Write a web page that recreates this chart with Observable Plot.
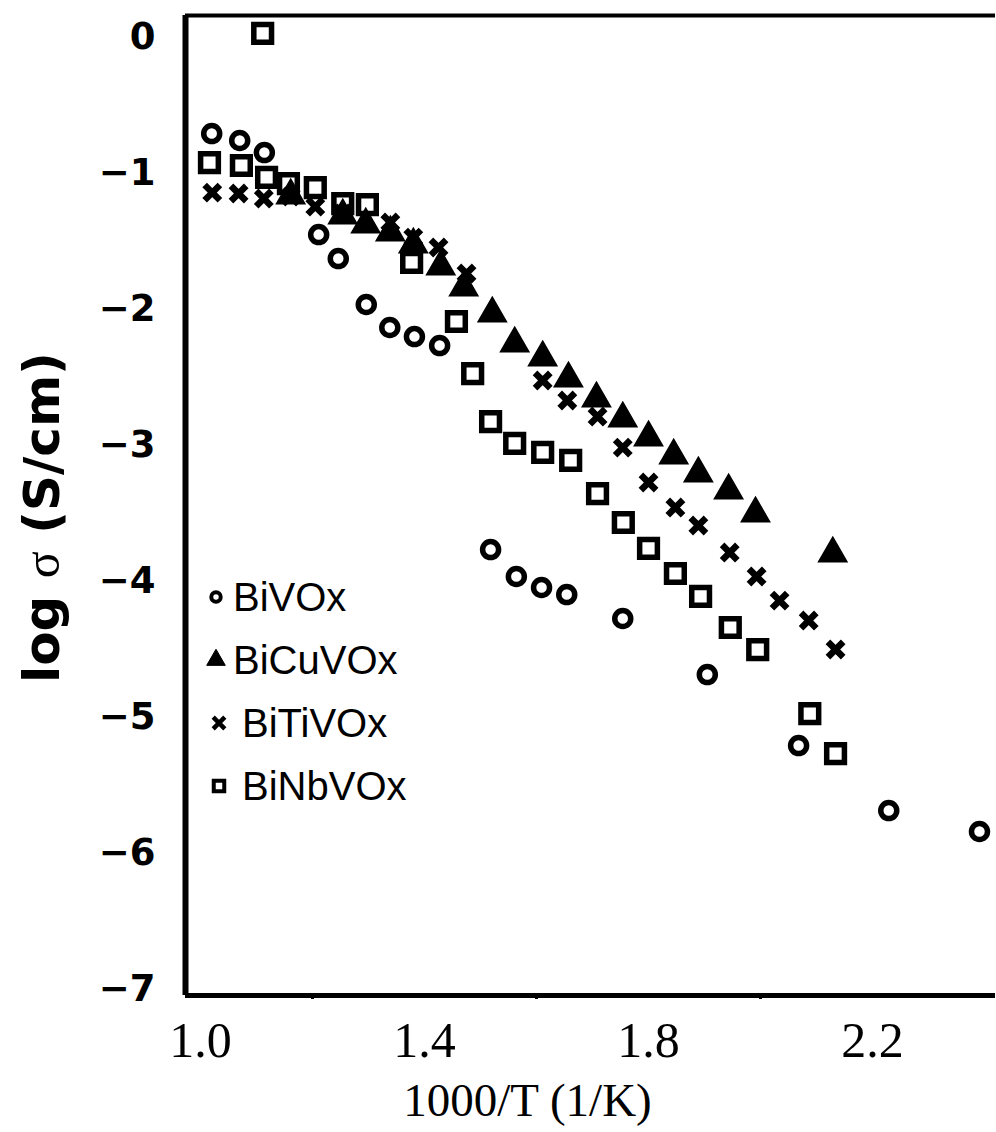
<!DOCTYPE html>
<html>
<head>
<meta charset="utf-8">
<script src="https://cdn.jsdelivr.net/npm/d3@7"></script>
<script src="https://cdn.jsdelivr.net/npm/@observablehq/plot@0.6"></script>
<style>
  html, body { margin: 0; padding: 0; background: #fff; }
  #wrap { position: relative; width: 996px; height: 1132px; overflow: hidden; }
  .lg-row { position: absolute; display: flex; align-items: center; font-family: "Liberation Sans", Arial, sans-serif; font-size: 40px; color: #000; line-height: 1; }
  .lg-row svg { display: block; }
</style>
</head>
<body>
<div id="wrap"></div>
<script>
// ---- data ----
const seriesNames = ["BiVOx", "BiCuVOx", "BiTiVOx", "BiNbVOx"];

const biVOx_x = [1.020, 1.070, 1.114, 1.211, 1.246, 1.296, 1.338, 1.382, 1.427, 1.518, 1.564, 1.609, 1.654, 1.754, 1.905, 2.068, 2.229, 2.391];
const biVOx_y = [-0.706, -0.757, -0.846, -1.449, -1.625, -1.963, -2.132, -2.199, -2.265, -3.765, -3.963, -4.044, -4.096, -4.272, -4.684, -5.206, -5.684, -5.838];

const biCuVOx_x = [1.161, 1.254, 1.295, 1.339, 1.380, 1.429, 1.470, 1.521, 1.561, 1.611, 1.657, 1.707, 1.754, 1.800, 1.845, 1.889, 1.943, 1.991, 2.129];
const biCuVOx_y = [-1.162, -1.309, -1.375, -1.434, -1.522, -1.684, -1.838, -2.029, -2.250, -2.353, -2.507, -2.654, -2.801, -2.941, -3.074, -3.206, -3.331, -3.500, -3.794];

const biTiVOx_x = [1.021, 1.068, 1.113, 1.161, 1.205, 1.254, 1.339, 1.380, 1.425, 1.475, 1.611, 1.655, 1.709, 1.754, 1.800, 1.848, 1.889, 1.945, 1.993, 2.034, 2.086, 2.134];
const biTiVOx_y = [-1.140, -1.147, -1.184, -1.169, -1.243, -1.294, -1.360, -1.471, -1.544, -1.735, -2.522, -2.669, -2.787, -3.015, -3.272, -3.456, -3.588, -3.787, -3.963, -4.140, -4.287, -4.500];

const biNbVOx_x = [1.111, 1.016, 1.073, 1.118, 1.157, 1.205, 1.254, 1.298, 1.377, 1.457, 1.486, 1.518, 1.561, 1.611, 1.661, 1.709, 1.755, 1.800, 1.848, 1.893, 1.946, 1.995, 2.088, 2.134];
const biNbVOx_y = [0.030, -0.919, -0.941, -1.029, -1.074, -1.103, -1.221, -1.228, -1.654, -2.088, -2.471, -2.824, -2.985, -3.051, -3.110, -3.353, -3.566, -3.757, -3.941, -4.110, -4.338, -4.500, -4.971, -5.265];

const xTicks = [1.0, 1.4, 1.8, 2.2];
const yTicks = [0, -1, -2, -3, -4, -5, -6, -7];
const xLabel = "1000/T (1/K)";
const yLabel = "log σ (S/cm)";

// ---- build tables ----
const toRows = (name, xs, ys) => xs.map((x, i) => ({series: name, x, y: ys[i]}));
const rowsVO = toRows("BiVOx", biVOx_x, biVOx_y);
const rowsCu = toRows("BiCuVOx", biCuVOx_x, biCuVOx_y);
const rowsTi = toRows("BiTiVOx", biTiVOx_x, biTiVOx_y);
const rowsNb = toRows("BiNbVOx", biNbVOx_x, biNbVOx_y);

const xDomain = [0.9732, 2.4196];
const yDomain = [-7.044, 0.162];
const yFmt = d => d === 0 ? "0" : "\u2212" + Math.abs(d);

const chart = Plot.plot({
  width: 996,
  height: 1132,
  marginLeft: 185,
  marginRight: 1,
  marginTop: 15,
  marginBottom: 137,
  style: {background: "white", color: "black", overflow: "visible"},
  x: {domain: xDomain},
  y: {domain: yDomain},
  marks: [
    Plot.axisX(xTicks, {tickSize: 0, tickPadding: 26, fontSize: 50, fontFamily: "Liberation Serif, Times New Roman, serif", tickFormat: d3.format(".1f"), label: null}),
    Plot.axisX([1.2, 1.6, 2.0], {tickSize: 4, strokeWidth: 3, text: null, label: null}),
    Plot.axisY(yTicks, {tickSize: 0, tickPadding: 30, fontSize: 37, fontWeight: "bold", fontFamily: "DejaVu Sans, Verdana, sans-serif", tickFormat: yFmt, label: null}),
    Plot.ruleX([xDomain[0]], {stroke: "black", strokeWidth: 6}),
    Plot.ruleY([yDomain[1]], {stroke: "black", strokeWidth: 4}),
    Plot.ruleY([yDomain[0]], {stroke: "black", strokeWidth: 5}),
    Plot.dot(rowsNb, {x: "x", y: "y", symbol: "square", r: 10, stroke: "black", strokeWidth: 5.5, fill: "none"}),
    Plot.dot(rowsVO, {x: "x", y: "y", symbol: "circle", r: 8, stroke: "black", strokeWidth: 5.5, fill: "none"}),
    Plot.dot(rowsTi, {x: "x", y: "y", symbol: "times", r: 7, stroke: "black", strokeWidth: 6.5}),
    Plot.dot(rowsCu, {x: "x", y: "y", symbol: "triangle", r: 10.5, fill: "black", stroke: "black", strokeWidth: 1.5}),
    Plot.text([xLabel], {frameAnchor: "bottom", dx: -63, dy: 120, fontSize: 47, fontFamily: "Liberation Serif, Times New Roman, serif", fill: "black"}),
    Plot.text([yLabel], {frameAnchor: "left", fontSize: 50, fontWeight: "bold", fontFamily: "DejaVu Sans, Verdana, sans-serif", fill: "black"})
  ]
});

// position the rotated y label and make the sigma a regular serif glyph like the reference
chart.querySelectorAll("text").forEach(t => {
  if (t.textContent === yLabel) {
    t.setAttribute("transform", "translate(40,517) rotate(-90)");
    t.removeAttribute("x"); t.removeAttribute("y");
    t.setAttribute("text-anchor", "middle");
    t.setAttribute("dy", "0.36em");
    const parts = yLabel.split("σ");
    t.textContent = "";
    const ns = "http://www.w3.org/2000/svg";
    const a = document.createElementNS(ns, "tspan"); a.textContent = parts[0];
    const s = document.createElementNS(ns, "tspan"); s.textContent = "σ";
    s.setAttribute("font-weight", "normal"); s.setAttribute("font-family", "Liberation Serif, serif");
    const b = document.createElementNS(ns, "tspan"); b.textContent = parts[1];
    t.append(a, s, b);
  }
});

const wrap = document.getElementById("wrap");
wrap.appendChild(chart);

// ---- legend (HTML overlay) ----
const legendSymbols = {
  "BiVOx":   {type: d3.symbolCircle,   size: 70,  fill: "none",  stroke: "black", sw: 4},
  "BiCuVOx": {type: d3.symbolTriangle, size: 150, fill: "black", stroke: "black", sw: 1},
  "BiTiVOx": {type: d3.symbolTimes,    size: 90,  fill: "none",  stroke: "black", sw: 4.5},
  "BiNbVOx": {type: d3.symbolSquare,   size: 110, fill: "none",  stroke: "black", sw: 4}
};
const legendLeft = [205, 205, 208, 208];
const legendGap = [6, 6, 12, 12];
seriesNames.forEach((name, i) => {
  const row = document.createElement("div");
  row.className = "lg-row";
  row.style.left = legendLeft[i] + "px";
  row.style.top = (597 + i * 63 - 22) + "px";
  row.style.height = "44px";
  const spec = legendSymbols[name];
  const svg = d3.create("svg").attr("width", 22).attr("height", 22);
  svg.append("path")
    .attr("transform", "translate(11,11)")
    .attr("d", d3.symbol(spec.type, spec.size)())
    .attr("fill", spec.fill).attr("stroke", spec.stroke).attr("stroke-width", spec.sw);
  row.appendChild(svg.node());
  const span = document.createElement("span");
  span.textContent = name;
  span.style.marginLeft = legendGap[i] + "px";
  row.appendChild(span);
  wrap.appendChild(row);
});
</script>
</body>
</html>
